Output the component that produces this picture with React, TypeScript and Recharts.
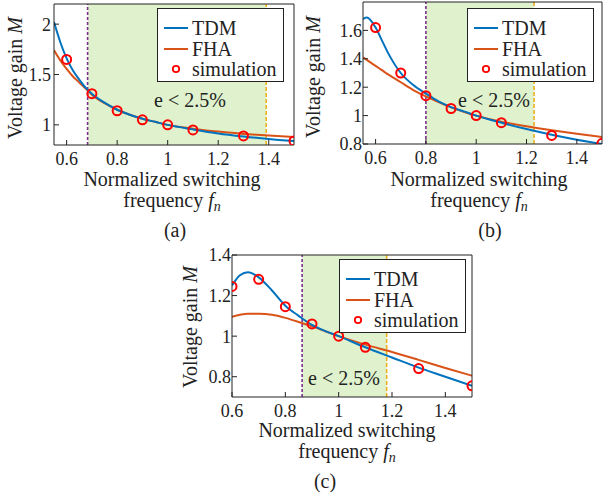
import { ComposedChart, Line, Scatter, XAxis, YAxis, ReferenceArea, ReferenceLine, Legend } from 'recharts';

// Panel (a)
const F_A = [0.55, 0.575, 0.6, 0.625, 0.65, 0.675, 0.7, 0.75, 0.8, 0.85, 0.9, 0.95, 1.0, 1.1, 1.2, 1.3, 1.4, 1.5];
const TDM_A = [2.02, 1.82, 1.66, 1.54, 1.45, 1.37, 1.31, 1.22, 1.15, 1.10, 1.06, 1.03, 1.0, 0.955, 0.915, 0.885, 0.86, 0.84];
const FHA_A = [1.74, 1.64, 1.555, 1.48, 1.42, 1.36, 1.30, 1.215, 1.15, 1.10, 1.06, 1.03, 1.0, 0.962, 0.933, 0.91, 0.895, 0.88];

// Panel (b)
const F_B = [0.55, 0.565, 0.6, 0.625, 0.65, 0.7, 0.75, 0.8, 0.85, 0.9, 0.95, 1.0, 1.1, 1.2, 1.3, 1.4, 1.5];
const TDM_B = [1.68, 1.69, 1.62, 1.53, 1.44, 1.30, 1.215, 1.155, 1.10, 1.06, 1.03, 1.0, 0.95, 0.905, 0.865, 0.83, 0.80];
const FHA_B = [1.41, 1.392, 1.35, 1.32, 1.29, 1.235, 1.18, 1.135, 1.095, 1.058, 1.027, 1.0, 0.957, 0.925, 0.897, 0.872, 0.85];

// Panel (c)
const F_C = [0.6, 0.63, 0.66, 0.7, 0.75, 0.8, 0.85, 0.9, 0.95, 1.0, 1.1, 1.2, 1.3, 1.4, 1.5];
const TDM_C = [1.25, 1.30, 1.315, 1.29, 1.225, 1.15, 1.10, 1.055, 1.025, 1.0, 0.945, 0.895, 0.845, 0.80, 0.755];
const FHA_C = [1.095, 1.105, 1.11, 1.11, 1.105, 1.09, 1.07, 1.048, 1.024, 1.0, 0.958, 0.922, 0.883, 0.843, 0.805];

// simulation points
const SIM_F = [0.6, 0.7, 0.8, 0.9, 1.0, 1.1, 1.3, 1.5];
const SIM_A = [1.65, 1.31, 1.14, 1.05, 1.0, 0.95, 0.89, 0.84];
const SIM_B = [1.62, 1.30, 1.14, 1.05, 1.0, 0.95, 0.86, 0.805];
const SIM_C = [1.245, 1.28, 1.145, 1.06, 1.0, 0.945, 0.84, 0.755];

// error < 2.5% zones
const ZONE_A = [0.683, 1.39];
const ZONE_B = [0.8, 1.23];
const ZONE_C = [0.863, 1.18];

const X_TICKS = [0.6, 0.8, 1, 1.2, 1.4];
const Y_TICKS_A = [1, 1.5, 2];
const Y_TICKS_B = [0.8, 1, 1.2, 1.4, 1.6];
const Y_TICKS_C = [0.8, 1, 1.2, 1.4];

const FONT = '"Liberation Serif", "Times New Roman", serif';
const INK = '#222';
const BLUE = '#0072BD';
const ORANGE = '#D95319';
const SIM_RED = '#FF0000';
const PURPLE = '#7E2F8E';
const YELLOW = '#EDB120';
const ZONE_FILL = '#dff2cd';

const pts = (xs: number[], ys: number[]) => xs.map((x, i) => ({ x, y: ys[i] }));

const SimCircle = (p: any) => (
  <circle cx={p.cx} cy={p.cy} r={4.5} fill="none" stroke={SIM_RED} strokeWidth={2} />
);

const LegendBox = () => {
  const rows = [
    { name: 'TDM', kind: 'line', color: BLUE, top: 19 },
    { name: 'FHA', kind: 'line', color: ORANGE, top: 40 },
    { name: 'simulation', kind: 'dot', color: SIM_RED, top: 60 },
  ];
  return (
    <div style={{ position: 'relative', width: 127, height: 74, border: `1px solid ${INK}`, background: '#fff', boxSizing: 'border-box', fontFamily: FONT, fontSize: 20, color: INK }}>
      {rows.map((r) => (
        <div key={r.name} style={{ position: 'absolute', left: 0, top: r.top - 11, height: 22, display: 'flex', alignItems: 'center' }}>
          <svg width={34} height={22} style={{ flex: 'none' }}>
            {r.kind === 'line' ? (
              <line x1={6} x2={30} y1={11} y2={11} stroke={r.color} strokeWidth={2} />
            ) : (
              <circle cx={18} cy={11} r={3.2} fill="none" stroke={r.color} strokeWidth={1.8} />
            )}
          </svg>
          <span style={{ lineHeight: '22px', whiteSpace: 'nowrap' }}>{r.name}</span>
        </div>
      ))}
    </div>
  );
};

interface PanelProps {
  left: number;
  top: number;
  width: number;
  height: number;
  margin: { top: number; right: number; left: number; bottom: number };
  xDomain: number[];
  yDomain: number[];
  yTicks: number[];
  f: number[];
  tdm: number[];
  fha: number[];
  sim: number[];
  zone: number[];
  legendLeft: number;
  legendTop: number;
  yTickMargin: number;
}

function Panel(p: PanelProps) {
  const tick = { fontSize: 18, fontFamily: FONT, fill: INK };
  return (
    <div style={{ position: 'absolute', left: p.left, top: p.top }}>
      <ComposedChart width={p.width} height={p.height} margin={p.margin}>
        <ReferenceArea x1={p.zone[0]} x2={p.zone[1]} fill={ZONE_FILL} fillOpacity={1} stroke="none" />
        <ReferenceLine x={p.zone[0]} stroke={PURPLE} strokeWidth={1.6} strokeDasharray="3 2" />
        <ReferenceLine x={p.zone[1]} stroke={YELLOW} strokeWidth={1.6} strokeDasharray="4 2" />
        <XAxis dataKey="x" type="number" domain={p.xDomain} ticks={X_TICKS} allowDataOverflow
          height={25} tickSize={-5} tickMargin={12} tick={tick} stroke={INK} interval={0} />
        <XAxis xAxisId="top" orientation="top" type="number" domain={p.xDomain} ticks={X_TICKS} allowDataOverflow
          height={1} tickSize={-5} tick={false} stroke={INK} interval={0} />
        <YAxis type="number" domain={p.yDomain} ticks={p.yTicks} allowDataOverflow
          width={54} tickSize={-5} tickMargin={p.yTickMargin} tick={tick} stroke={INK} interval={0} />
        <YAxis yAxisId="right" orientation="right" type="number" domain={p.yDomain} ticks={p.yTicks} allowDataOverflow
          width={1} tickSize={-5} tick={false} stroke={INK} interval={0} />
        <Line data={pts(p.f, p.fha)} dataKey="y" type="monotone" stroke={ORANGE} strokeWidth={2} dot={false} isAnimationActive={false} />
        <Line data={pts(p.f, p.tdm)} dataKey="y" type="monotone" stroke={BLUE} strokeWidth={2} dot={false} isAnimationActive={false} />
        <Scatter data={pts(SIM_F, p.sim)} dataKey="y" shape={SimCircle} isAnimationActive={false} />
        <Legend layout="vertical" align="center" verticalAlign="middle"
          wrapperStyle={{ left: p.legendLeft, top: p.legendTop, width: 127, height: 74 }} content={() => <LegendBox />} />
      </ComposedChart>
    </div>
  );
}

const txt = (x: number, y: number, size: number, content: any, rotate = false, lh: string | number = 1) => (
  <div style={{
    position: 'absolute', left: x, top: y, transform: `translate(-50%, -50%)${rotate ? ' rotate(-90deg)' : ''}`,
    fontFamily: FONT, fontSize: size, color: INK, whiteSpace: 'nowrap', lineHeight: lh, textAlign: 'center',
  }}>{content}</div>
);

const yLabel = <span>Voltage gain <i>M</i></span>;
const xLabel = (
  <span>
    Normalized switching<br />
    frequency <i>f</i><i style={{ fontSize: 14, position: 'relative', top: 4 }}>n</i>
  </span>
);

export default function App() {
  return (
    <div style={{ position: 'absolute', left: 0, top: 0, width: 603, height: 492, background: '#fff', overflow: 'hidden' }}>
      <Panel left={0} top={0} width={300} height={170} margin={{ top: 3, right: 5, left: 0, bottom: 0 }}
        xDomain={[0.55, 1.5]} yDomain={[0.8, 2.2]} yTicks={Y_TICKS_A} f={F_A} tdm={TDM_A} fha={FHA_A} sim={SIM_A}
        zone={ZONE_A} legendLeft={157} legendTop={8} yTickMargin={8} />
      <Panel left={309} top={0} width={294} height={169} margin={{ top: 1, right: 0, left: 0, bottom: 0 }}
        xDomain={[0.55, 1.5]} yDomain={[0.8, 1.8]} yTicks={Y_TICKS_B} f={F_B} tdm={TDM_B} fha={FHA_B} sim={SIM_B}
        zone={ZONE_B} legendLeft={158} legendTop={8} yTickMargin={6} />
      <Panel left={178} top={241} width={300} height={181} margin={{ top: 13, right: 5, left: 0, bottom: 0 }}
        xDomain={[0.6, 1.5]} yDomain={[0.7, 1.4]} yTicks={Y_TICKS_C} f={F_C} tdm={TDM_C} fha={FHA_C} sim={SIM_C}
        zone={ZONE_C} legendLeft={161} legendTop={18} yTickMargin={6} />

      {txt(190, 100, 20, 'e < 2.5%')}
      {txt(494, 100, 20, 'e < 2.5%')}
      {txt(344, 378, 20, 'e < 2.5%')}

      {txt(15, 78, 20, yLabel, true)}
      {txt(313, 77, 20, yLabel, true)}
      {txt(190, 327, 20, yLabel, true)}

      {txt(172, 191, 20, xLabel, false, '21px')}
      {txt(175, 230, 20, '(a)')}

      {txt(479, 191, 20, xLabel, false, '21px')}
      {txt(490, 230, 20, '(b)')}

      {txt(347, 442, 20, xLabel, false, '21px')}
      {txt(325, 481, 20, '(c)')}
    </div>
  );
}
